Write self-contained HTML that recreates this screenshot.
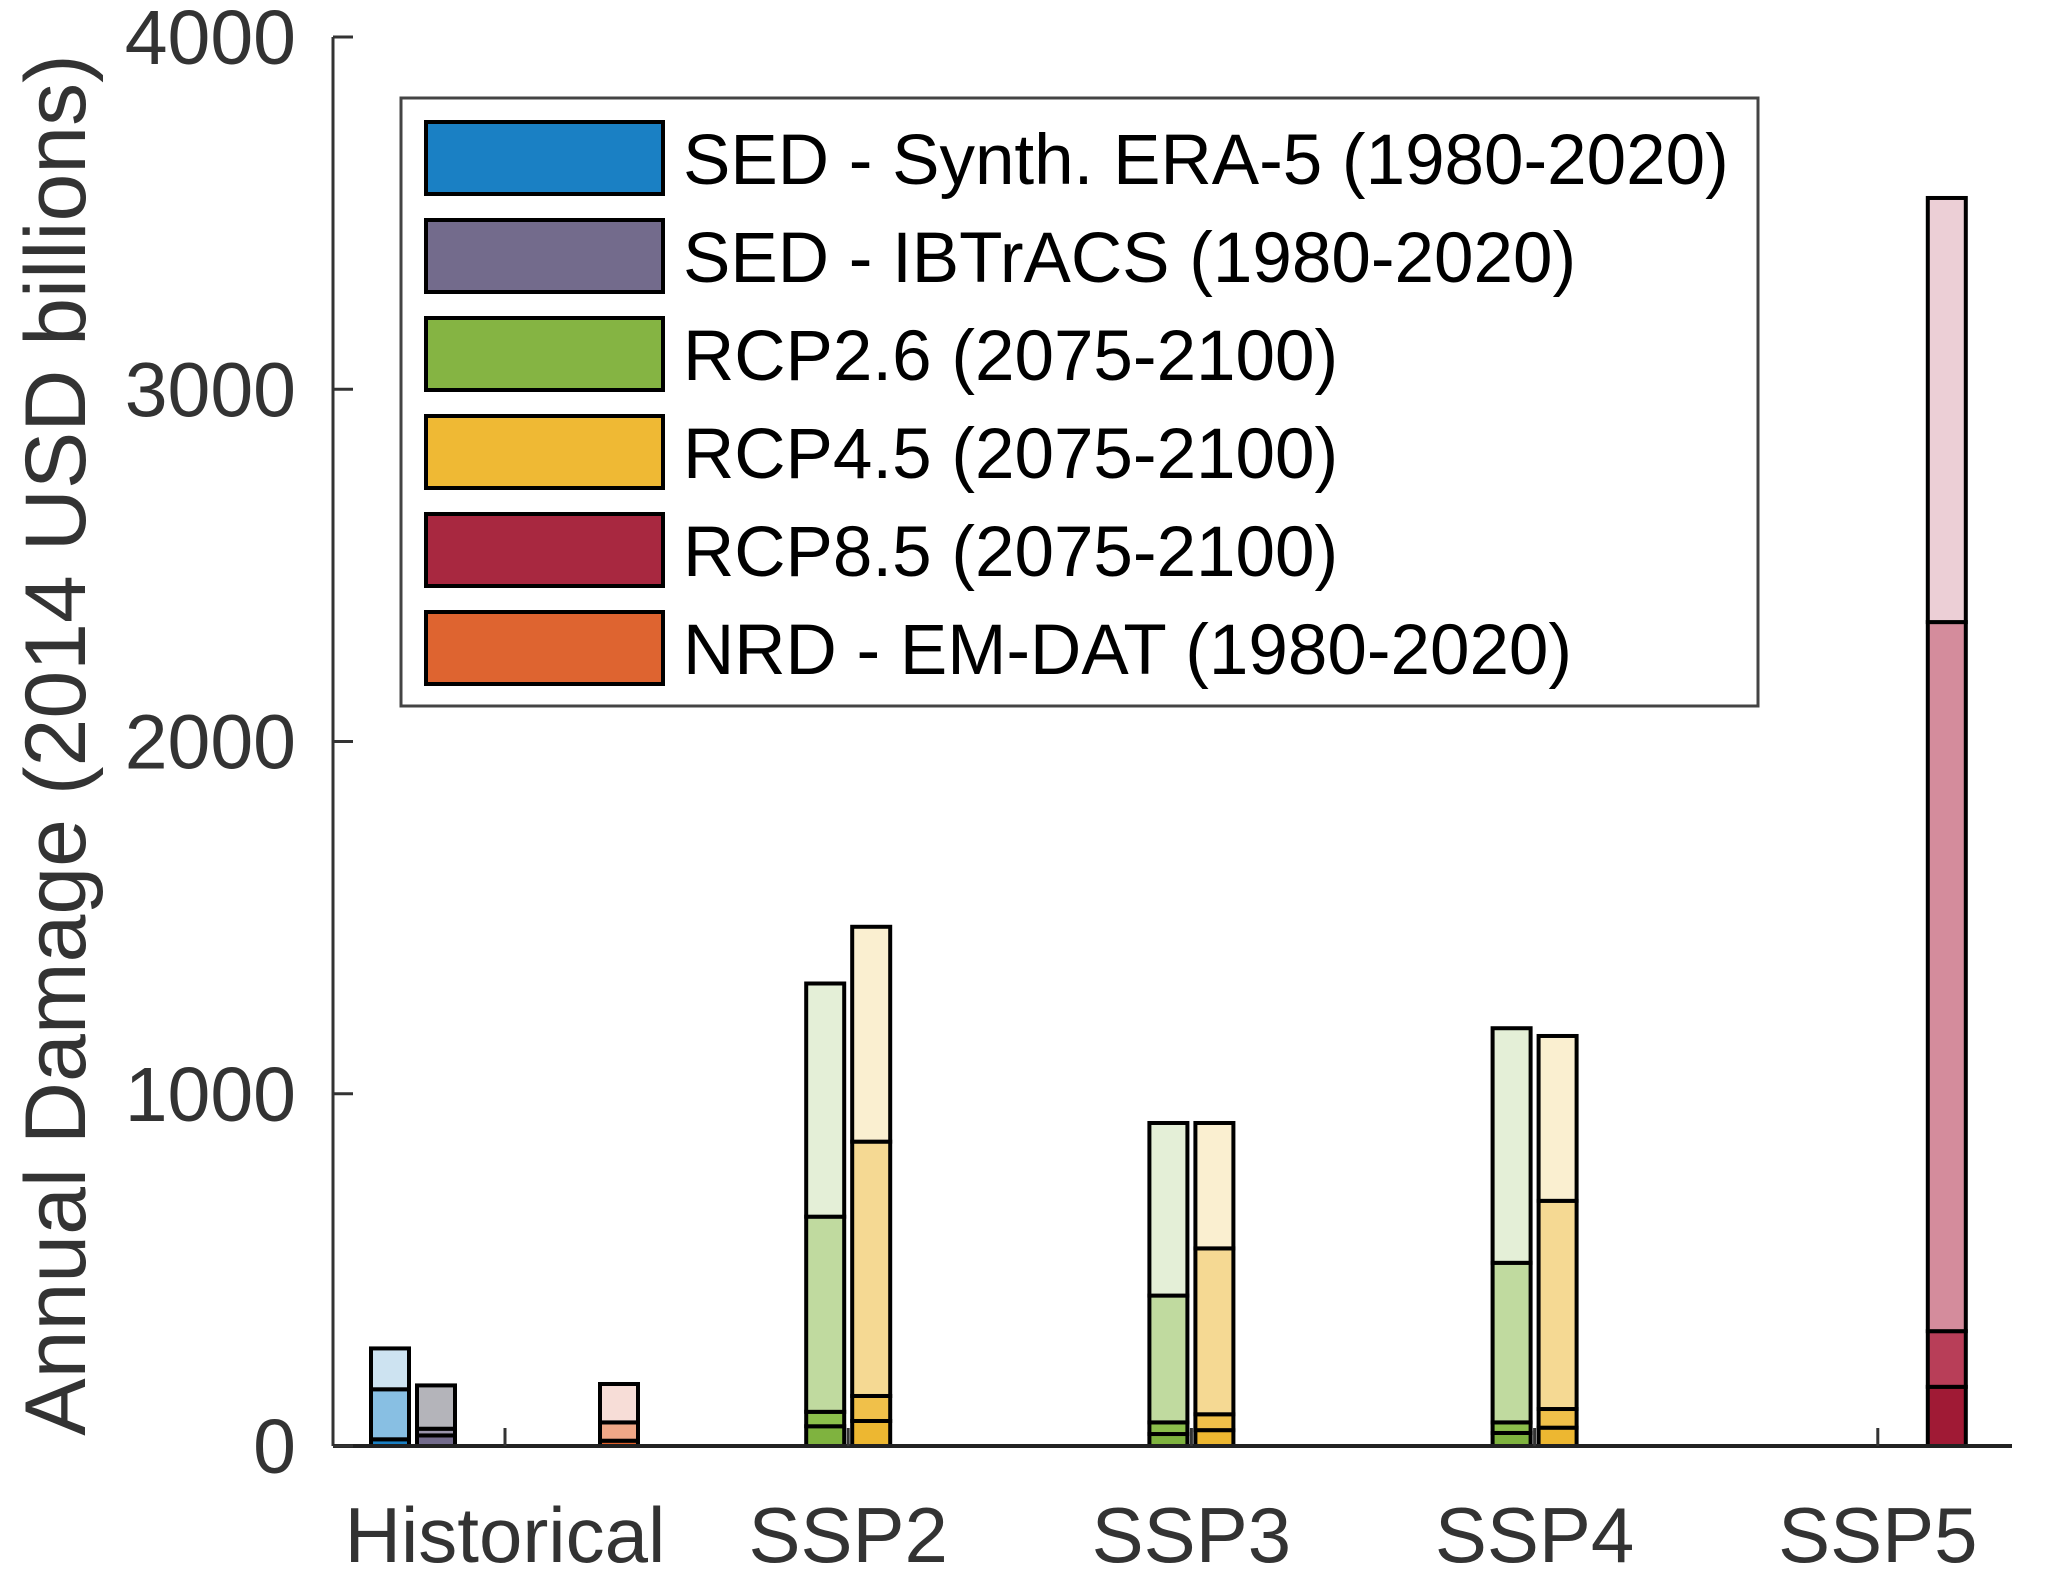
<!DOCTYPE html>
<html><head><meta charset="utf-8"><style>
html,body{margin:0;padding:0;background:#fff;}
svg{display:block;}
text{font-family:"Liberation Sans",sans-serif;fill:#333;}
</style></head><body>
<svg id="chart" width="2067" height="1572" viewBox="0 0 2067 1572" xmlns="http://www.w3.org/2000/svg">
<g id="bars"></g>
<g id="axes"></g>
<text transform="translate(85,745) rotate(-90)" text-anchor="middle" font-size="86">Annual Damage (2014 USD billions)</text>
<g id="legend">
<rect x="401" y="98" width="1357" height="608" fill="#fff" stroke="#444" stroke-width="3"/>
</g>
</svg>
<script>
const categories = ['Historical','SSP2','SSP3','SSP4','SSP5'];
const yTicks = [0,1000,2000,3000,4000];
// stacked level boundaries per category (null = no bar)
const sedEra5 = [[19,161,277], null, null, null, null];
const sedIbtracs = [[30,49,172], null, null, null, null];
const rcp26 = [null, [56,97,651,1313], [34,67,427,917], [37,67,520,1186], null];
const rcp45 = [null, [71,142,864,1474], [45,90,561,917], [52,105,696,1164], null];
const rcp85 = [null, null, null, null, [168,326,2339,3543]];
const nrdEmdat = [[15,67,176], null, null, null, null];

const seriesNames = ['SED - Synth. ERA-5 (1980-2020)','SED - IBTrACS (1980-2020)','RCP2.6 (2075-2100)','RCP4.5 (2075-2100)','RCP8.5 (2075-2100)','NRD - EM-DAT (1980-2020)'];
const seriesData = [sedEra5, sedIbtracs, rcp26, rcp45, rcp85, nrdEmdat];
const legendColors = ['#1a80c4','#736b8c','#85b443','#efb934','#a82840','#de6430'];
const segColors = [
 ['#1a80c4','#88bfe3','#cde3f1'],
 ['#736b8c','#9a94ab','#b4b4ba'],
 ['#7fb33f','#8cbf4c','#c0da9f','#e4efd7'],
 ['#edb731','#f0c04a','#f5d993','#faefd0'],
 ['#a01a35','#b83e58','#d48c9c','#eccfd6'],
 ['#e0602a','#f0a888','#f7ddd7']
];
const seriesOffsets = [-115,-69,-23,23,69,114];

const NS='http://www.w3.org/2000/svg';
const x0=333, x1=2012, yZero=1446, yTop=37, yMax=4000;
function yScale(v){return yZero-(v/yMax)*(yZero-yTop);}
function xScale(i){return 505+i*343.2;}
function mk(tag,attrs,parent){const e=document.createElementNS(NS,tag);for(const k in attrs)e.setAttribute(k,attrs[k]);parent.appendChild(e);return e;}

const bars=document.getElementById('bars');
const bw=38;
seriesData.forEach((ser,s)=>{
  ser.forEach((lv,c)=>{
    if(!lv) return;
    const cx=xScale(c)+seriesOffsets[s];
    let prev=0;
    lv.forEach((v,k)=>{
      const r=mk('rect',{x:cx-bw/2,y:yScale(v),width:bw,height:yScale(prev)-yScale(v),fill:segColors[s][k],stroke:'#000','stroke-width':4},bars);
      
      
      prev=v;
    });
  });
});

const axes=document.getElementById('axes');
const yl=mk('line',{x1:x0,y1:yTop,x2:x0,y2:yZero,stroke:'#333','stroke-width':3},axes);


const xl=mk('line',{x1:x0,y1:yZero,x2:x1,y2:yZero,stroke:'#222','stroke-width':4},axes);


yTicks.forEach(t=>{
  const y=yScale(t);
  const tk=mk('line',{x1:x0,y1:y,x2:x0+20,y2:y,stroke:'#333','stroke-width':3},axes);
  
  
  const tx=mk('text',{x:296,y:y+27,'text-anchor':'end','font-size':77},axes);
  tx.textContent=t;
  
  
});
categories.forEach((c,i)=>{
  const x=xScale(i);
  const tk=mk('line',{x1:x,y1:yZero,x2:x,y2:yZero-18,stroke:'#333','stroke-width':3},axes);
  
  
  const tx=mk('text',{x:x,y:1562,'text-anchor':'middle','font-size':78},axes);
  tx.textContent=c;
  
  
});

const legend=document.getElementById('legend');
seriesNames.forEach((n,i)=>{
  const top=122+i*98;
  const sw=mk('rect',{x:426,y:top,width:237,height:72,fill:legendColors[i],stroke:'#000','stroke-width':4},legend);
  
  
  const tx=mk('text',{x:683,y:top+62,'font-size':71,fill:'#000'},legend);
  tx.style.fill='#000';
  tx.textContent=n;
  
  
});
</script>
</body></html>
